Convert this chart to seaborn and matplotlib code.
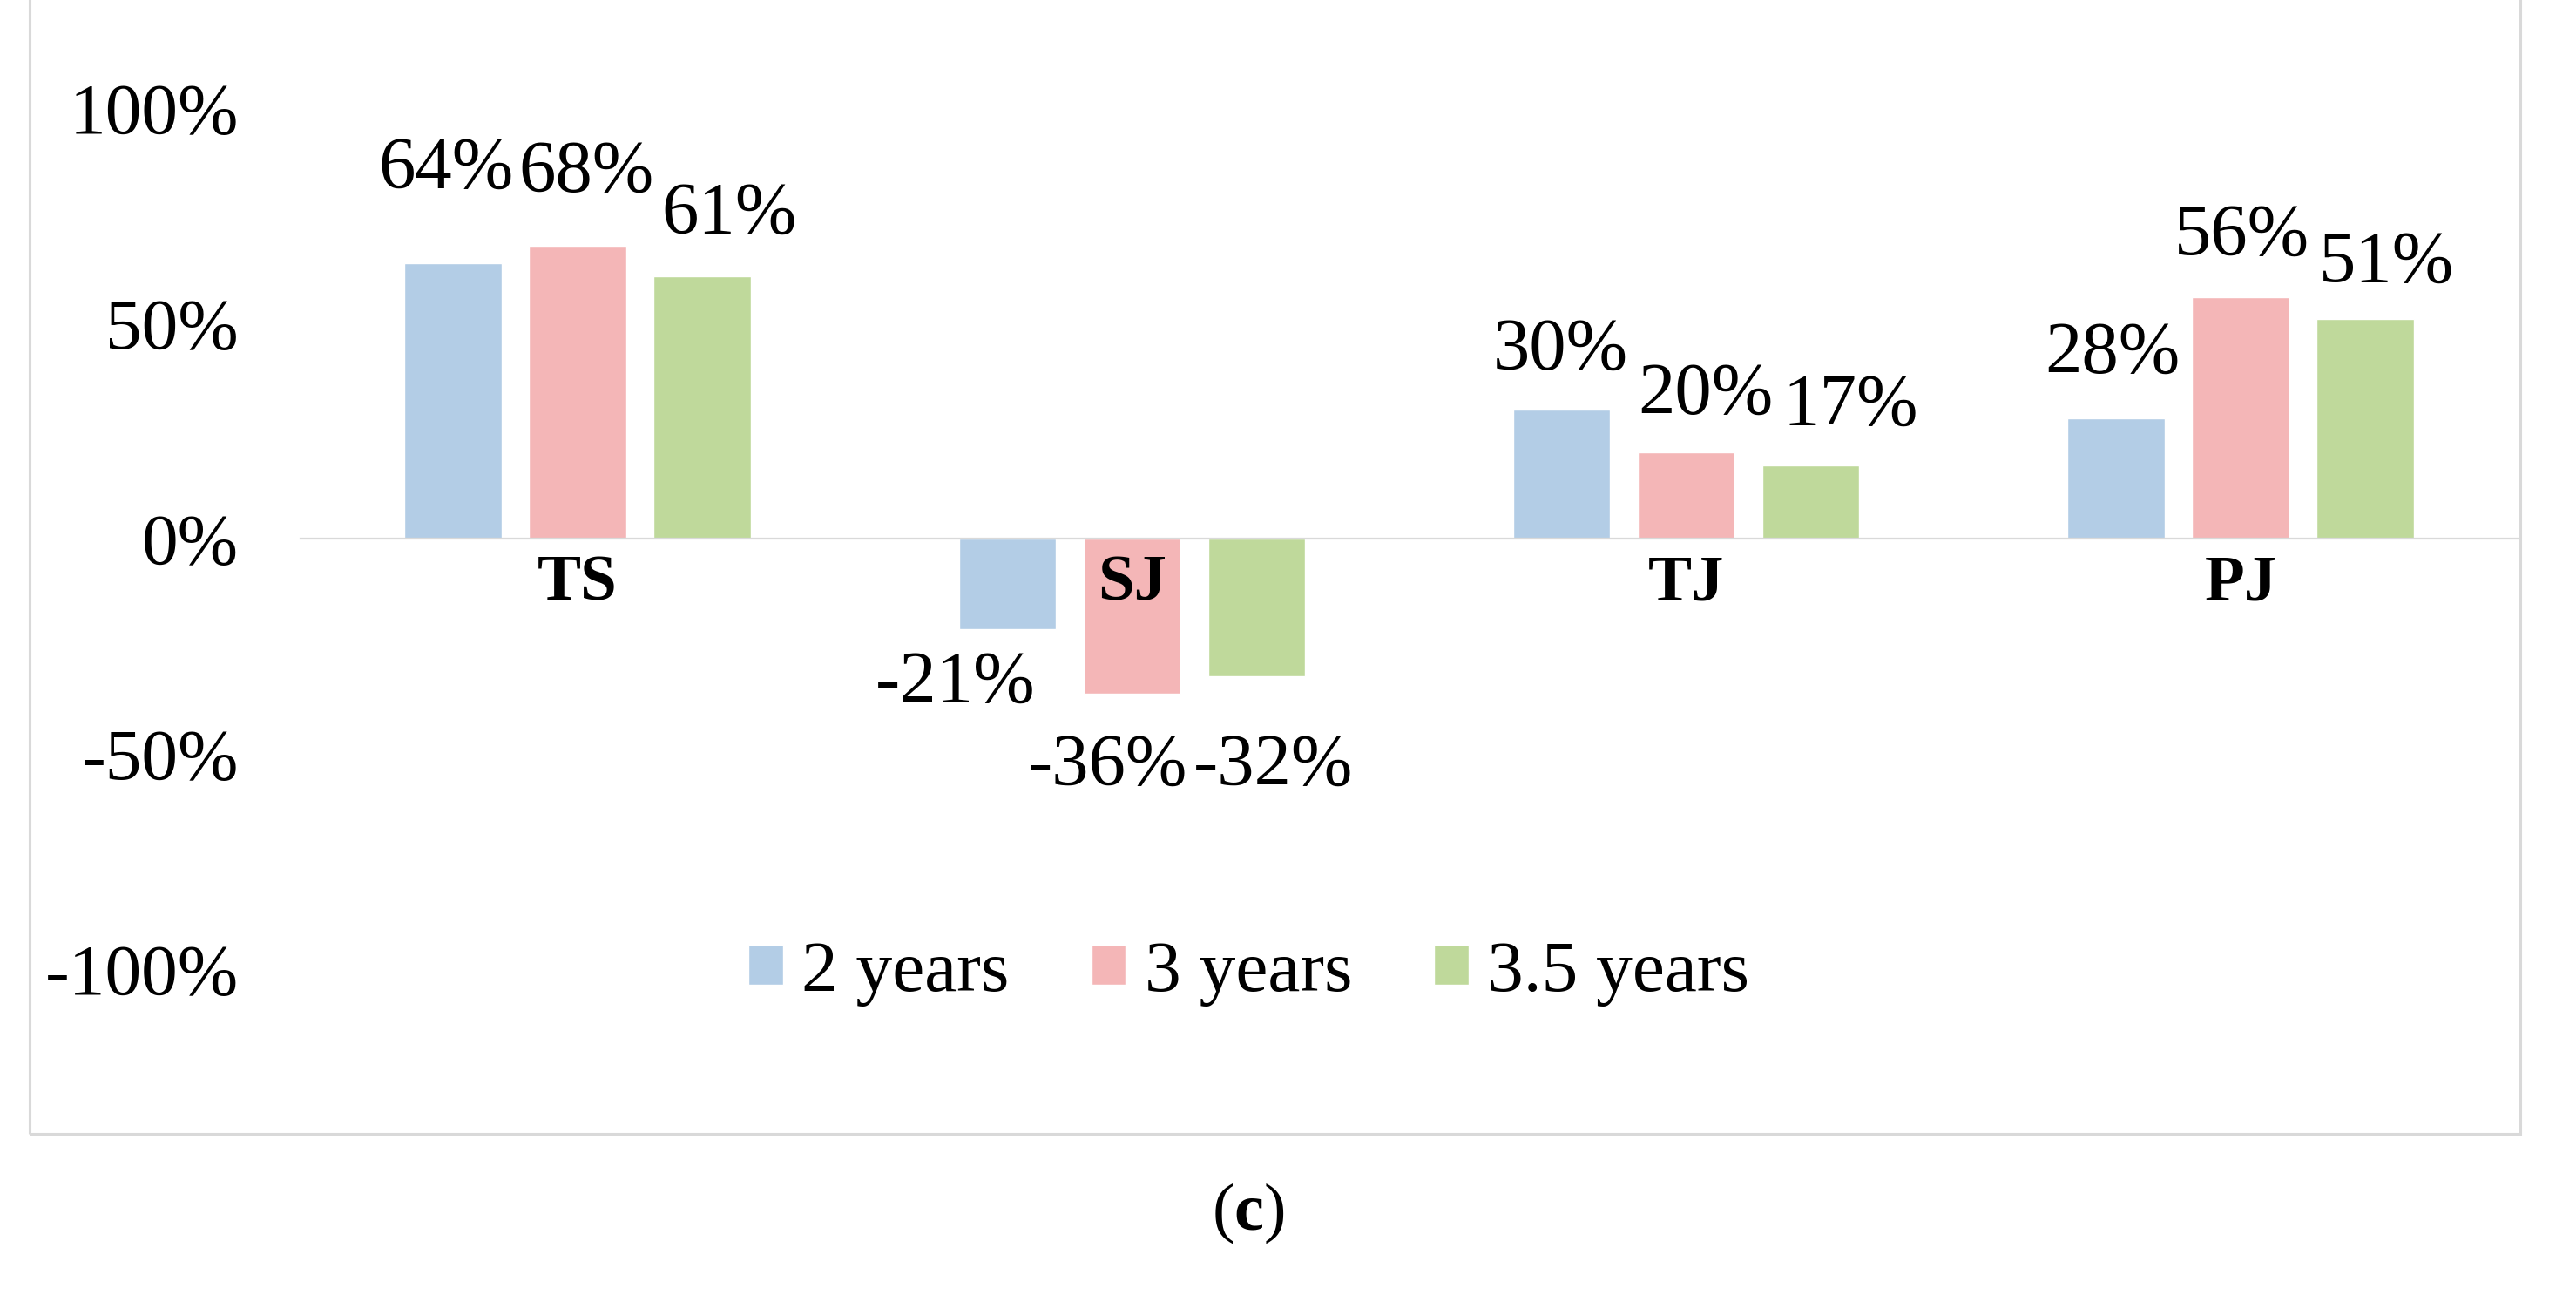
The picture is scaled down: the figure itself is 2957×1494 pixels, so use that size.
import matplotlib
matplotlib.use('Agg')
import matplotlib.pyplot as plt
import seaborn as sns
import pandas as pd
from matplotlib.patches import Rectangle


# values (fractions)
sites = ["TS", "SJ", "TJ", "PJ"]
periods = ["2 years", "3 years", "3.5 years"]
vals_2y = [0.64, -0.21, 0.30, 0.28]
vals_3y = [0.68, -0.36, 0.20, 0.56]
vals_35y = [0.61, -0.32, 0.17, 0.51]

yticks = [-1.0, -0.5, 0.0, 0.5, 1.0]
ytick_labels = ["-100%", "-50%", "0%", "50%", "100%"]

colors = ["#b3cde6", "#f4b6b7", "#bfd99b"]

# where excel put each data label, offset from the bar end in points
label_off = {
    "2 years": [(-6, 77), (-43, -46), (-1, 48), (-3, 52)],
    "3 years": [(7, 60), (-20, -61), (16, 47), (1, 50)],
    "3.5 years": [(22, 50), (14, -75), (33, 48), (18, 45)],
}

df = pd.DataFrame({
    "site": sites * 3,
    "period": [periods[0]] * 4 + [periods[1]] * 4 + [periods[2]] * 4,
    "value": vals_2y + vals_3y + vals_35y,
})

sns.set_style("white")
plt.rcParams["font.family"] = ["Liberation Serif", "DejaVu Serif"]
plt.rcParams["text.color"] = "black"
plt.rcParams["xtick.color"] = "black"
plt.rcParams["ytick.color"] = "black"
plt.rcParams["mathtext.fontset"] = "custom"
plt.rcParams["mathtext.rm"] = "Liberation Serif"
plt.rcParams["mathtext.bf"] = "Liberation Serif:bold"

fig = plt.figure(figsize=(29.57, 14.94), dpi=100)
ax = fig.add_axes([345 / 2957, 1 - 1112 / 1494, (2890 - 345) / 2957, (1112 - 124) / 1494])

sns.barplot(data=df, x="site", y="value", hue="period", palette=colors,
            width=0.674, gap=0.22, ax=ax, saturation=1)

ax.set_ylim(-1.0, 1.0)
ax.set_xlim(-0.5, 3.5)
ax.set_yticks(yticks)
ax.set_yticklabels(ytick_labels)
ax.set_xlabel("")
ax.set_ylabel("")

for s in ["top", "right", "left"]:
    ax.spines[s].set_visible(False)
ax.spines["bottom"].set_position(("data", 0))
ax.spines["bottom"].set_color("#d9d9d9")
ax.spines["bottom"].set_linewidth(1.6)

ax.tick_params(axis="y", length=0, pad=51, labelsize=60)
ax.set_xticks([])

# category names sit just under the zero line, on top of the bars
for i, name in enumerate(sites):
    ax.annotate(name, xy=(i, 0), xytext=(0, -13), textcoords="offset points",
                ha="center", va="top", fontsize=54, fontweight="bold", zorder=5)

# data labels
for cont, per in zip(ax.containers, periods):
    for i, bar in enumerate(cont):
        h = bar.get_height()
        cx = bar.get_x() + bar.get_width() / 2
        dx, dy = label_off[per][i]
        ax.annotate(f"{round(h * 100):d}%", xy=(cx, h),
                    xytext=(dx, dy), textcoords="offset points",
                    ha="center", va="center", fontsize=61)

handles, labels = ax.get_legend_handles_labels()
ax.get_legend().remove()
fig.legend(handles, labels, loc="center", bbox_to_anchor=(0.4849, 0.2523),
           ncol=3, frameon=False, fontsize=60, handlelength=0.47,
           handleheight=0.47, handletextpad=0.26, columnspacing=1.13)

# outer chart frame (top edge lies off the figure)
fig.add_artist(Rectangle((34 / 2957, 1 - 1301 / 1494), (2893 - 34) / 2957, 1.0,
                         transform=fig.transFigure, fill=False,
                         edgecolor="#d9d9d9", linewidth=2.2))

fig.text(1433 / 2957, 1 - 1392 / 1494, r"($\mathbf{c}$)", ha="center",
         va="center", fontsize=55)

fig.savefig("out.png", dpi=100)
